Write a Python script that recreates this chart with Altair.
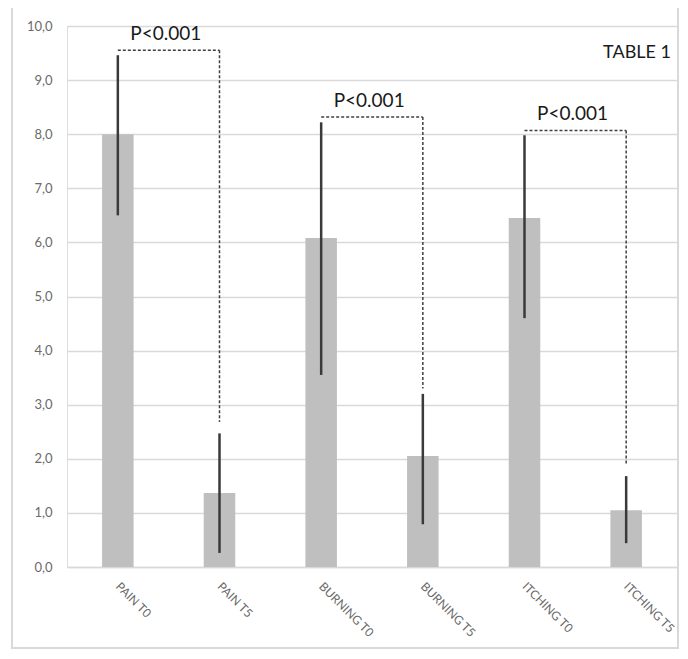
import altair as alt
import pandas as pd

categories = ["PAIN T0", "PAIN T5", "BURNING T0", "BURNING T5", "ITCHING T0", "ITCHING T5"]
means = [8.0, 1.37, 6.08, 2.05, 6.45, 1.05]
err_low = [6.5, 0.26, 3.55, 0.79, 4.6, 0.44]
err_high = [9.46, 2.47, 8.22, 3.2, 7.98, 1.68]

pair_left = ["PAIN T0", "BURNING T0", "ITCHING T0"]
pair_right = ["PAIN T5", "BURNING T5", "ITCHING T5"]
bracket_top = [9.55, 8.32, 8.07]
bracket_right_bottom = [2.68, 3.3, 1.88]
p_labels = ["P<0.001", "P<0.001", "P<0.001"]

title_text = "TABLE 1"

FONT = "Lato"

df = pd.DataFrame({"cat": categories, "mean": means, "lo": err_low, "hi": err_high})
br = pd.DataFrame({"left": pair_left, "right": pair_right, "top": bracket_top,
                   "bottom": bracket_right_bottom, "label": p_labels})

xscale = alt.Scale(domain=categories, paddingInner=0.69, paddingOuter=0.345)
yscale = alt.Scale(domain=[0, 10], nice=False)

xenc = alt.X("cat:N", scale=xscale, sort=categories, title=None,
             axis=alt.Axis(labelAngle=45, labelAlign="left", labelBaseline="middle",
                           labelPadding=17, labelFontSize=12, labelColor="#6a6a6a",
                           labelFont=FONT, ticks=False, domainColor="#d9d9d9",
                           domainWidth=1.5))
yenc = alt.Y("mean:Q", scale=yscale, title=None,
             axis=alt.Axis(values=list(range(0, 11)), labelExpr="replace(format(datum.value, '.1f'), '.', ',')",
                           labelFontSize=13, labelColor="#6a6a6a", labelFont=FONT,
                           labelPadding=15, ticks=False, domain=False,
                           gridColor="#d9d9d9", gridWidth=1.5))

bars = alt.Chart(df).mark_bar(color="#bfbfbf").encode(x=xenc, y=yenc)

errs = alt.Chart(df).mark_rule(color="#3a3a3a", strokeWidth=2.5).encode(
    x=alt.X("cat:N", scale=xscale, sort=categories),
    y=alt.Y("lo:Q", scale=yscale),
    y2="hi:Q",
)

dash = dict(color="#404040", strokeWidth=1.5, strokeDash=[3, 2])

br_h = alt.Chart(br).mark_rule(**dash).encode(
    x=alt.X("left:N", scale=xscale, sort=categories),
    x2="right:N",
    y=alt.Y("top:Q", scale=yscale),
)
br_v = alt.Chart(br).mark_rule(**dash).encode(
    x=alt.X("right:N", scale=xscale, sort=categories),
    y=alt.Y("top:Q", scale=yscale),
    y2="bottom:Q",
)
br_t = alt.Chart(br).mark_text(font=FONT, fontSize=19, color="#1a1a1a",
                               baseline="alphabetic", dx=48, dy=-10).encode(
    x=alt.X("left:N", scale=xscale, sort=categories),
    y=alt.Y("top:Q", scale=yscale),
    text="label:N",
)

title = alt.Chart(pd.DataFrame({"t": [title_text]})).mark_text(
    font=FONT, fontSize=18, color="#1a1a1a", align="right", baseline="middle"
).encode(x=alt.value(604), y=alt.value(27), text="t:N")

frame = alt.Chart(pd.DataFrame({"a": [0]})).mark_rect(
    fill="transparent", stroke="#d9d9d9", strokeWidth=2
).encode(x=alt.value(-55), x2=alt.value(611), y=alt.value(-20), y2=alt.value(622))

chart = alt.layer(frame, bars, errs, br_h, br_v, br_t, title).properties(
    width=610, height=541,
    autosize=alt.AutoSizeParams(type="none"),
    padding={"left": 59, "top": 18, "right": 3, "bottom": 84},
).configure_view(stroke=None).configure(background="white")

chart.save("out.html", embed_options={"renderer": "svg", "actions": False})
